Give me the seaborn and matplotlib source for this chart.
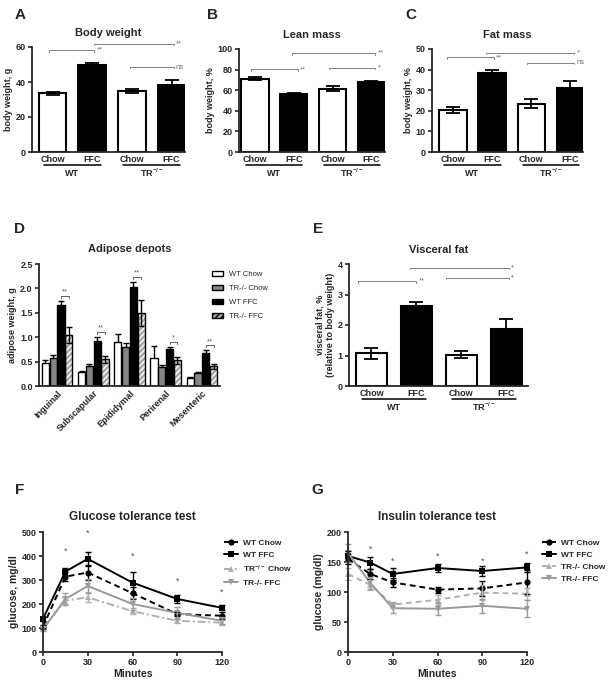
"""
Body composition, adipose depots and GTT/ITT panels (WT vs TR-/-, Chow vs FFC)
"""
import numpy as np
import pandas as pd
import matplotlib
matplotlib.use('Agg')
import matplotlib.pyplot as plt
import seaborn as sns
from matplotlib.patches import Rectangle
from matplotlib.container import BarContainer
from matplotlib.ticker import FormatStrFormatter

# ---------------- data ----------------
groups = ['WT Chow', 'WT FFC', 'TR Chow', 'TR FFC']
group_ticks = ['Chow', 'FFC', 'Chow', 'FFC']

body_weight = [33.5, 49.5, 35.0, 38.5]
body_weight_err = [1.0, 1.3, 1.0, 2.5]
lean_mass = [71.0, 56.0, 61.5, 67.5]
lean_mass_err = [1.5, 1.0, 2.5, 1.5]
fat_mass = [20.5, 38.5, 23.5, 31.0]
fat_mass_err = [1.5, 1.2, 2.0, 3.5]
visceral_fat = [1.07, 2.62, 1.03, 1.88]
visceral_fat_err = [0.17, 0.13, 0.12, 0.32]

depots = ['Inguinal', 'Subscapular', 'Epididymal', 'Perirenal', 'Mesenteric']
depot_groups = ['WT Chow', 'TR-/- Chow', 'WT FFC', 'TR-/- FFC']
depot_wt_chow = [0.48, 0.29, 0.91, 0.58, 0.17]
depot_wt_chow_err = [0.05, 0.02, 0.15, 0.23, 0.02]
depot_tr_chow = [0.57, 0.41, 0.79, 0.38, 0.26]
depot_tr_chow_err = [0.06, 0.04, 0.10, 0.05, 0.03]
depot_wt_ffc = [1.65, 0.92, 2.03, 0.75, 0.67]
depot_wt_ffc_err = [0.10, 0.08, 0.10, 0.05, 0.06]
depot_tr_ffc = [1.05, 0.55, 1.49, 0.53, 0.40]
depot_tr_ffc_err = [0.16, 0.07, 0.27, 0.07, 0.06]
depot_sig = ['**', '**', '**', '*', '**']

minutes = [0, 15, 30, 60, 90, 120]
gtt_labels = ['WT Chow', 'WT FFC', 'TR$^{-/-}$ Chow', 'TR-/- FFC']
gtt_wt_chow = [105, 314, 331, 245, 158, 151]
gtt_wt_chow_err = [8, 20, 30, 25, 10, 15]
gtt_wt_ffc = [138, 335, 388, 289, 221, 184]
gtt_wt_ffc_err = [8, 15, 28, 45, 18, 10]
gtt_tr_chow = [100, 214, 228, 170, 130, 122]
gtt_tr_chow_err = [8, 15, 20, 12, 10, 10]
gtt_tr_ffc = [95, 221, 275, 200, 163, 130]
gtt_tr_ffc_err = [8, 25, 30, 25, 25, 15]
gtt_star_y = [419, 493, 401, 296, 251]

itt_labels = ['WT Chow', 'WT FFC', 'TR-/- Chow', 'TR-/- FFC']
itt_wt_chow = [155, 130, 116, 104, 106, 116]
itt_wt_chow_err = [8, 8, 8, 5, 12, 20]
itt_wt_ffc = [160, 149, 130, 140, 135, 141]
itt_wt_ffc_err = [8, 10, 10, 7, 8, 8]
itt_tr_chow = [130, 112, 79, 87, 99, 97]
itt_tr_chow_err = [10, 8, 5, 8, 12, 10]
itt_tr_ffc = [165, 115, 73, 72, 77, 72]
itt_tr_ffc_err = [15, 10, 8, 10, 12, 14]
itt_star_y = [171, 152, 159, 152, 163]

# ---------------- style ----------------
sns.set_style("ticks")
plt.rcParams['font.family'] = ['Liberation Sans', 'DejaVu Sans']
plt.rcParams['font.weight'] = 'bold'
plt.rcParams['axes.labelweight'] = 'bold'
plt.rcParams['axes.titleweight'] = 'bold'
plt.rcParams['axes.linewidth'] = 1.3
plt.rcParams['xtick.major.width'] = 1.2
plt.rcParams['ytick.major.width'] = 1.2
plt.rcParams['ytick.major.size'] = 3
plt.rcParams['xtick.major.size'] = 3
plt.rcParams['mathtext.default'] = 'regular'

W, H = 616, 687
fig = plt.figure(figsize=(W / 100, H / 100), dpi=100)


def px_axes(l, t, r, b):
    return fig.add_axes([l / W, 1 - b / H, (r - l) / W, (b - t) / H])


def panel_letter(x, y, s):
    fig.text(x / W, 1 - y / H, s, fontsize=11, fontweight='bold', ha='center', va='center')


def bracket(ax, x1, x2, y, text, tick):
    ax.plot([x1, x1, x2, x2], [y - tick, y, y, y - tick], color='#808080', lw=0.7, clip_on=False)
    ax.text(x2 + 0.06, y, text, fontsize=5.5, color='#707070', va='center', ha='left',
            fontweight='normal')


def group_bar_panel(ax, values, errs, title, ylabel, ylim, yticks, xlim, sigs):
    df = pd.DataFrame({'group': groups, 'value': values})
    sns.barplot(data=df, x='group', y='value', hue='group', order=groups, hue_order=groups,
                palette=['white', 'black', 'white', 'black'], edgecolor='black', linewidth=1.5,
                width=0.7, legend=False, ax=ax)
    ax.errorbar(range(4), values, yerr=errs, fmt='none', ecolor='black', elinewidth=1.3,
                capsize=5, capthick=1.3, clip_on=False, zorder=1)
    ax.set_ylim(*ylim)
    ax.set_yticks(yticks)
    ax.set_xlim(*xlim)
    ax.set_xticks(range(4))
    ax.set_xticklabels(group_ticks, fontsize=6.5)
    ax.tick_params(axis='x', length=0, pad=2.5)
    ax.tick_params(axis='y', labelsize=6.5, pad=1.5)
    ax.set_xlabel('')
    ax.set_ylabel(ylabel, fontsize=6.5, labelpad=2)
    ax.set_title(title, fontsize=8, pad=8)
    sns.despine(ax=ax)
    hpx = ax.get_position().height * H
    tr = ax.get_xaxis_transform()
    for (a, b), lab in [((-0.22, 1.22), 'WT'), ((1.78, 3.22), r'TR$^{-/-}$')]:
        ax.plot([a, b], [-13 / hpx, -13 / hpx], color='black', lw=1.1, transform=tr, clip_on=False)
        ax.text((a + b) / 2, -21 / hpx, lab, transform=tr, fontsize=6.5, ha='center', va='center')
    tick = (ylim[1] - ylim[0]) * 0.012
    for x1, x2, y, s in sigs:
        bracket(ax, x1, x2, y, s, tick)


# ---------------- A: body weight ----------------
axA = px_axes(32, 47, 185, 152)
group_bar_panel(axA, body_weight, body_weight_err, 'Body weight', 'body weight, g',
                (0, 60), [0, 20, 40, 60], (-0.52, 3.34),
                [(-0.1, 1.05, 58.1, '**'), (1.05, 3.05, 61.9, '**'), (1.95, 3.05, 48.5, 'ns')])

# ---------------- B: lean mass ----------------
axB = px_axes(239, 49, 385, 152)
group_bar_panel(axB, lean_mass, lean_mass_err, 'Lean mass', 'body weight, %',
                (0, 100), [0, 20, 40, 60, 80, 100], (-0.41, 3.35),
                [(-0.1, 1.1, 80.2, '**'), (0.95, 3.1, 95.8, '**'), (1.9, 3.1, 81.8, '*')])

# ---------------- C: fat mass ----------------
axC = px_axes(432, 49, 583, 152)
group_bar_panel(axC, fat_mass, fat_mass_err, 'Fat mass', 'body weight, %',
                (0, 50), [0, 10, 20, 30, 40, 50], (-0.53, 3.32),
                [(-0.15, 1.05, 45.9, '**'), (0.85, 3.1, 48.2, '*'), (1.9, 3.1, 43.3, 'ns')])

# ---------------- D: adipose depots ----------------
axD = px_axes(39, 264, 220, 386)
depot_df = pd.DataFrame({
    'depot': np.repeat(depots, 4),
    'group': depot_groups * len(depots),
    'value': np.column_stack([depot_wt_chow, depot_tr_chow, depot_wt_ffc, depot_tr_ffc]).ravel(),
})
depot_errs = [depot_wt_chow_err, depot_tr_chow_err, depot_wt_ffc_err, depot_tr_ffc_err]
depot_colors = ['white', '#858585', 'black', '#a8a8a8']
sns.barplot(data=depot_df, x='depot', y='value', hue='group', hue_order=depot_groups,
            palette=depot_colors, edgecolor='black', linewidth=1.0, width=0.86, gap=0.06,
            ax=axD)
bar_conts = [c for c in axD.containers if isinstance(c, BarContainer)]
for i, cont in enumerate(bar_conts):
    xs = [p.get_x() + p.get_width() / 2 for p in cont.patches]
    ys = [p.get_height() for p in cont.patches]
    axD.errorbar(xs, ys, yerr=depot_errs[i], fmt='none', ecolor='black', elinewidth=1.0,
                 capsize=2, capthick=1.0, zorder=1)
    if i == 3:
        for p in cont.patches:
            p.set_hatch('//////')
            p.set_edgecolor('white')
            p.set_linewidth(0)
            axD.add_patch(Rectangle((p.get_x(), 0), p.get_width(), p.get_height(),
                                    fill=False, edgecolor='black', lw=1.0, zorder=3))
    else:
        for p in cont.patches:
            p.set_zorder(2)
ffc_wt = bar_conts[2].patches
ffc_tr = bar_conts[3].patches
for k, (pw, pt) in enumerate(zip(ffc_wt, ffc_tr)):
    x1 = pw.get_x() + pw.get_width() / 2
    x2 = pt.get_x() + pt.get_width() / 2
    top = max(pw.get_height() + depot_errs[2][k], pt.get_height() + depot_errs[3][k]) + 0.1
    axD.plot([x1, x1, x2, x2], [top - 0.04, top, top, top - 0.04], color='#606060', lw=0.7)
    axD.text((x1 + x2) / 2, top + 0.01, depot_sig[k], fontsize=5.5, ha='center', va='bottom',
             color='#606060', fontweight='normal')
axD.set_ylim(0, 2.5)
axD.set_yticks([0, 0.5, 1.0, 1.5, 2.0, 2.5])
axD.yaxis.set_major_formatter(FormatStrFormatter('%.1f'))
axD.set_xlim(-0.5, 4.5)
axD.tick_params(axis='y', labelsize=6.5, pad=1.5)
axD.tick_params(axis='x', labelsize=6.5, length=0, pad=2)
plt.setp(axD.get_xticklabels(), rotation=45, ha='right', rotation_mode='anchor')
axD.set_xlabel('')
axD.set_ylabel('adipose weight, g', fontsize=6.5, labelpad=2)
axD.set_title('Adipose depots', fontsize=8, pad=9)
sns.despine(ax=axD)
h, l = axD.get_legend_handles_labels()
if len(h) > 3:
    h[3].set_hatch('//////')
    h[3].set_edgecolor('black')
axD.legend(h, l, loc='upper left', bbox_to_anchor=(0.92, 1.0), frameon=False,
           handlelength=1.4, handleheight=0.6, labelspacing=0.9,
           prop={'weight': 'normal', 'size': 5.5})

# ---------------- E: visceral fat ----------------
axE = px_axes(349, 264, 528, 386)
group_bar_panel(axE, visceral_fat, visceral_fat_err, 'Visceral fat',
                'visceral fat, %\n(relative to body weight)',
                (0, 4), [0, 1, 2, 3, 4], (-0.5, 3.48),
                [(-0.3, 1.0, 3.43, '**'), (0.85, 3.05, 3.87, '*'), (1.65, 3.05, 3.54, '*')])

# ---------------- F & G: tolerance tests ----------------
line_colors = ['black', 'black', '#b0b0b0', '#9a9a9a']
line_markers = ['o', 's', '^', 'v']


def tolerance_panel(ax, labels, series, errs, stars, dash_styles, title, ylabel, ylim, yticks,
                    legend_x):
    df = pd.DataFrame({
        'minutes': minutes * 4,
        'glucose': np.concatenate(series),
        'group': np.repeat(labels, len(minutes)),
    })
    sns.lineplot(data=df, x='minutes', y='glucose', hue='group', style='group',
                 hue_order=labels, style_order=labels,
                 palette=dict(zip(labels, line_colors)),
                 markers=dict(zip(labels, line_markers)),
                 dashes=dict(zip(labels, dash_styles)),
                 markersize=4.5, markeredgewidth=0, linewidth=1.4, errorbar=None,
                 ax=ax, clip_on=False)
    for vals, err, c in zip(series, errs, line_colors):
        ax.errorbar(minutes, vals, yerr=err, fmt='none', ecolor=c, elinewidth=1.0,
                    capsize=2, capthick=1.0, clip_on=False)
    for m, y in zip(minutes[1:], stars):
        ax.text(m, y, '*', fontsize=6.5, ha='center', va='center', color='#505050',
                fontweight='normal')
    ax.set_xlim(0, 120)
    ax.set_xticks([0, 30, 60, 90, 120])
    ax.set_ylim(*ylim)
    ax.set_yticks(yticks)
    ax.tick_params(labelsize=6.5, pad=1.5)
    ax.set_xlabel('Minutes', fontsize=7.5, labelpad=1)
    ax.set_ylabel(ylabel, fontsize=7.5, labelpad=2)
    ax.set_title(title, fontsize=8.5, pad=9)
    sns.despine(ax=ax)
    h, l = ax.get_legend_handles_labels()
    ax.legend(h, l, loc='upper left', bbox_to_anchor=(legend_x, 1.0), frameon=False,
              fontsize=6, handlelength=1.7, handletextpad=0.6, labelspacing=0.5)


axF = px_axes(43, 532, 222, 652)
tolerance_panel(axF, gtt_labels,
                [gtt_wt_chow, gtt_wt_ffc, gtt_tr_chow, gtt_tr_ffc],
                [gtt_wt_chow_err, gtt_wt_ffc_err, gtt_tr_chow_err, gtt_tr_ffc_err],
                gtt_star_y, [(3, 2), '', (4, 1.5, 1, 1.5), ''],
                'Glucose tolerance test', 'glucose, mg/dl', (0, 500), [0, 100, 200, 300, 400, 500],
                0.97)

axG = px_axes(348, 532, 527, 652)
tolerance_panel(axG, itt_labels,
                [itt_wt_chow, itt_wt_ffc, itt_tr_chow, itt_tr_ffc],
                [itt_wt_chow_err, itt_wt_ffc_err, itt_tr_chow_err, itt_tr_ffc_err],
                itt_star_y, [(3, 2), '', (3, 2), ''],
                'Insulin tolerance test', 'glucose (mg/dl)', (0, 200), [0, 50, 100, 150, 200],
                1.04)

# panel letters
panel_letter(20, 15, 'A')
panel_letter(212, 15, 'B')
panel_letter(411, 15, 'C')
panel_letter(20, 229, 'D')
panel_letter(318, 229, 'E')
panel_letter(20, 490, 'F')
panel_letter(317, 490, 'G')

fig.savefig('out.png', dpi=100)
